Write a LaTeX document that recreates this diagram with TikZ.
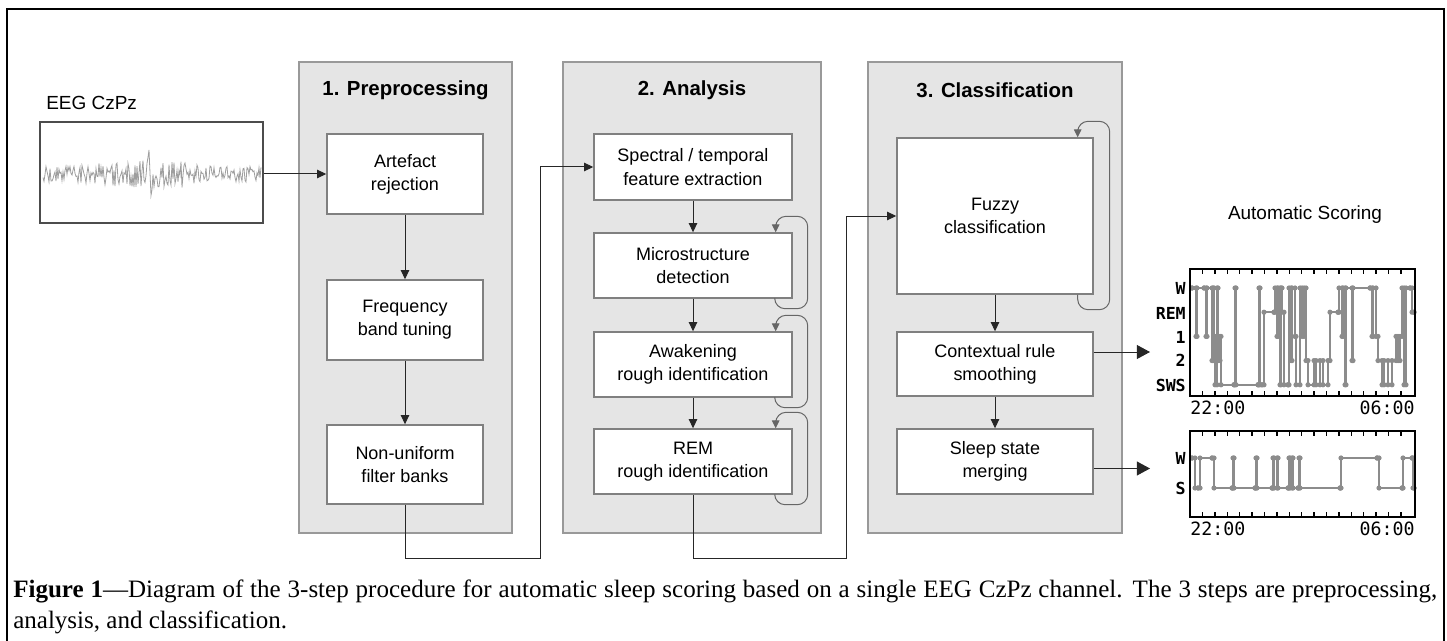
\documentclass[tikz,border=0pt]{standalone}
\usepackage{fontspec}
\setmainfont{Liberation Serif}
\setsansfont{Liberation Sans}
\newfontfamily\plotfont{DejaVu Sans Mono}
\usetikzlibrary{arrows.meta,calc}

\definecolor{panelfill}{gray}{0.9}
\definecolor{paneledge}{gray}{0.6}
\definecolor{boxedge}{gray}{0.5}
\definecolor{sigcol}{gray}{0.62}
\definecolor{hypcol}{gray}{0.55}

\def\px{0.25mm}

\begin{document}
\begin{tikzpicture}[x=\px, y=-\px,
    panel/.style={draw=paneledge, fill=panelfill, line width=0.3mm, inner sep=0pt},
    stage/.style={draw=boxedge, fill=white, line width=0.35mm, align=center, inner sep=0pt,
      font=\sffamily\fontsize{12.8}{16.5}\selectfont},
    title/.style={font=\sffamily\bfseries\fontsize{14.5}{17}\selectfont},
    flow/.style={-{Triangle[length=2.3mm,width=2.1mm]}, line width=0.25mm, draw=black!85},
    selfloop/.style={-{Triangle[length=2mm,width=1.9mm]}, line width=0.25mm, draw=black!60,
      rounded corners=2.6mm},
    outarrow/.style={-{Triangle[length=3.3mm,width=3.5mm]}, line width=0.25mm, draw=black!85},
    hypline/.style={draw=hypcol, line width=0.45mm},
    hypdot/.style={fill=hypcol},
    frame/.style={draw=black, line width=0.55mm, inner sep=0pt},
    lvl/.style={anchor=east, inner sep=0pt, font=\plotfont\bfseries\fontsize{11.8}{13}\selectfont},
    tlabel/.style={inner sep=0pt, font=\plotfont\fontsize{13}{14}\selectfont}]

  \useasboundingbox (0,0) rectangle (1447,641);
  \draw[line width=0.65mm] (7,641) -- (7,9) -- (1444,9) -- (1444,641);

  % gray panels and their titles
  \node[panel, minimum width=213*\px, minimum height=471*\px] (prep) at (405.5,297.5) {};
  \node[panel, minimum width=258*\px, minimum height=471*\px] (anal) at (692,297.5) {};
  \node[panel, minimum width=254*\px, minimum height=471*\px] (clas) at (995,297.5) {};
  \node[title] (prept) at (405.5,90) {1. Preprocessing};
  \node[title] (analt) at (692,90) {2. Analysis};
  \node[title] (clast) at (995,90) {3. Classification};

  % input signal
  \node[anchor=west, inner sep=0pt, font=\sffamily\fontsize{13.5}{16}\selectfont] (eegt) at (46,103) {EEG CzPz};
  \node[draw=black!70, line width=0.35mm, minimum width=223*\px, minimum height=101*\px] (eeg) at (151.5,172.5) {};
  \pgfmathsetseed{12}
  \draw[sigcol, line width=0.2mm] plot[domain=43:261, samples=219]
    (\x,{174+rand*(8+7*max(0,1-abs(\x-140)/70)+10*max(0,1-abs(\x-185)/8))
      -42*max(0,1-abs(\x-149)/2.5)+40*max(0,1-abs(\x-151)/2.5)
      -26*max(0,1-abs(\x-185)/2.5)+22*max(0,1-abs(\x-187)/2.5)});

  % step 1
  \node[stage, minimum width=156*\px, minimum height=80*\px] (art) at (405,174) {Artefact\\rejection};
  \node[stage, minimum width=156*\px, minimum height=80*\px] (freq) at (405,320) {Frequency\\band tuning};
  \node[stage, minimum width=156*\px, minimum height=79*\px] (filt) at (405,464.5) {Non-uniform\\filter banks};

  % step 2
  \node[stage, minimum width=198*\px, minimum height=66*\px] (spec) at (693,167) {Spectral / temporal\\feature extraction};
  \node[stage, minimum width=198*\px, minimum height=65*\px] (micro) at (693,265.5) {Microstructure\\detection};
  \node[stage, minimum width=198*\px, minimum height=65*\px] (awak) at (693,364.5) {Awakening\\rough identification};
  \node[stage, minimum width=198*\px, minimum height=65*\px] (rem) at (693,461.5) {REM\\rough identification};

  % step 3
  \node[stage, minimum width=196*\px, minimum height=156*\px] (fuzzy) at (995,216) {Fuzzy\\classification};
  \node[stage, minimum width=196*\px, minimum height=64*\px] (ctx) at (995,364) {Contextual rule\\smoothing};
  \node[stage, minimum width=196*\px, minimum height=65*\px] (merge) at (995,461.5) {Sleep state\\merging};

  % connectors
  \draw[flow] (eeg.east |- art.west) -- (art.west);
  \draw[flow] (art) -- (freq);
  \draw[flow] (freq) -- (filt);
  \draw[flow] (spec) -- (micro);
  \draw[flow] (micro) -- (awak);
  \draw[flow] (awak) -- (rem);
  \draw[flow] (fuzzy) -- (ctx);
  \draw[flow] (ctx) -- (merge);
  \coordinate (r1) at (540,558);
  \coordinate (r2) at (846,558);
  \draw[flow] (filt.south) |- (r1) |- (spec.west);
  \draw[flow] (rem.south) |- (r2) |- (fuzzy.west);

  % self loops
  \foreach \b in {micro,awak,rem}
    \draw[selfloop] ($(\b.south east)+(-18,0)$) |- ($(\b.south east)+(15,10)$)
      |- ($(\b.north east)+(-17,-16)$) -- ($(\b.north east)+(-17,0)$);
  \draw[selfloop] ($(fuzzy.south east)+(-16,0)$) |- ($(fuzzy.south east)+(16,15)$)
    |- ($(fuzzy.north east)+(-16,-16)$) -- ($(fuzzy.north east)+(-16,0)$);

  % scoring output
  \node[inner sep=0pt, font=\sffamily\fontsize{13.5}{16}\selectfont] (scoret) at (1305,215) {Automatic Scoring};
  \coordinate (s1) at (1150,352);
  \coordinate (s2) at (1150,468.5);
  \draw[outarrow] ($(ctx.east)+(0,-12)$) -- (s1);
  \draw[outarrow] ($(merge.east)+(0,7)$) -- (s2);

  % hypnogram
  \foreach \x/\l [remember=\x as \xp (initially 0), remember=\l as \lp (initially 0)] in
    {0/0, 4/2, 5/0, 12/0, 14/2, 15/0, 20/3, 21/0, 22/2, 23/4, 25/0, 26/3, 28/2, 29/4,
     42/4, 43/0, 44/4, 66/4, 67/0, 68/4, 70/4, 72/1, 82/1, 83/0, 85/2, 86/0, 88/4, 89/0,
     90/1, 92/4, 96/4, 97/0, 99/3, 100/0, 103/2, 104/4, 108/0, 110/2, 112/0, 114/3, 116/4,
     122/3, 124/4, 128/3, 131/4, 136/3, 138/1, 146/1, 147/0, 150/2, 151/0, 153/4, 154/0,
     160/3, 161/0, 178/0, 180/2, 181/0, 184/2, 186/3, 190/4, 192/3, 196/4, 200/3, 204/2,
     206/3, 208/2, 210/0, 212/4, 214/0, 218/0, 220/1, 222/1} {
    \draw[hypline] ({1192+\xp},{288+24.2*\lp}) -| ({1192+\x},{288+24.2*\l});
    \fill[hypdot] ({1192+\x},{288+24.2*\lp}) circle[radius=2.6*\px];
    \fill[hypdot] ({1192+\x},{288+24.2*\l}) circle[radius=2.6*\px];
  }
  \node[frame, minimum width=225*\px, minimum height=127*\px] (hyp) at (1302.5,332.5) {};
  \foreach \k in {1,...,17} {
    \draw[line width=0.35mm] ({1190+12.4*\k},269) -- ++(0,5);
    \draw[line width=0.35mm] ({1190+12.4*\k},396) -- ++(0,-5);
  }
  \node[lvl] (lw) at (1186,288) {W};
  \node[lvl] (lrem) at (1186,313) {REM};
  \node[lvl] (l1) at (1186,337) {1};
  \node[lvl] (l2) at (1186,360) {2};
  \node[lvl] (lsws) at (1186,385) {SWS};
  \node[tlabel, anchor=west] (ta) at (1190,408) {22:00};
  \node[tlabel, anchor=east] (tb) at (1415,408) {06:00};

  % merged hypnogram
  \foreach \x/\l [remember=\x as \xp (initially 0), remember=\l as \lp (initially 0)] in
    {0/0, 3/1, 6/1, 8/0, 20/0, 22/1, 40/1, 41/0, 42/1, 63/1, 64/0, 65/1, 80/1, 81/0, 82/1,
     85/0, 86/1, 96/1, 97/0, 98/1, 100/0, 101/1, 106/1, 107/0, 108/1, 148/1, 149/0, 185/0,
     187/1, 210/1, 211/0, 220/0, 221/1, 222/1} {
    \draw[hypline] ({1192+\xp},{458+30*\lp}) -| ({1192+\x},{458+30*\l});
    \fill[hypdot] ({1192+\x},{458+30*\lp}) circle[radius=2.6*\px];
    \fill[hypdot] ({1192+\x},{458+30*\l}) circle[radius=2.6*\px];
  }
  \node[frame, minimum width=225*\px, minimum height=86*\px] (mhyp) at (1302.5,474) {};
  \foreach \k in {1,...,17} {
    \draw[line width=0.35mm] ({1190+12.4*\k},431) -- ++(0,5);
    \draw[line width=0.35mm] ({1190+12.4*\k},517) -- ++(0,-5);
  }
  \node[lvl] (mw) at (1186,458) {W};
  \node[lvl] (ms) at (1186,488) {S};
  \node[tlabel, anchor=west] (tc) at (1190,529) {22:00};
  \node[tlabel, anchor=east] (td) at (1415,529) {06:00};

  % caption
  \node[anchor=north west, text width=356mm, align=justify, inner sep=0pt,
    font=\fontsize{17.8}{22}\selectfont] (cap) at (13,580)
    {\textbf{Figure 1}\textemdash Diagram of the 3-step procedure for automatic sleep scoring based on a single EEG CzPz channel. The 3 steps are preprocessing, analysis, and classification.};
\end{tikzpicture}
\end{document}
